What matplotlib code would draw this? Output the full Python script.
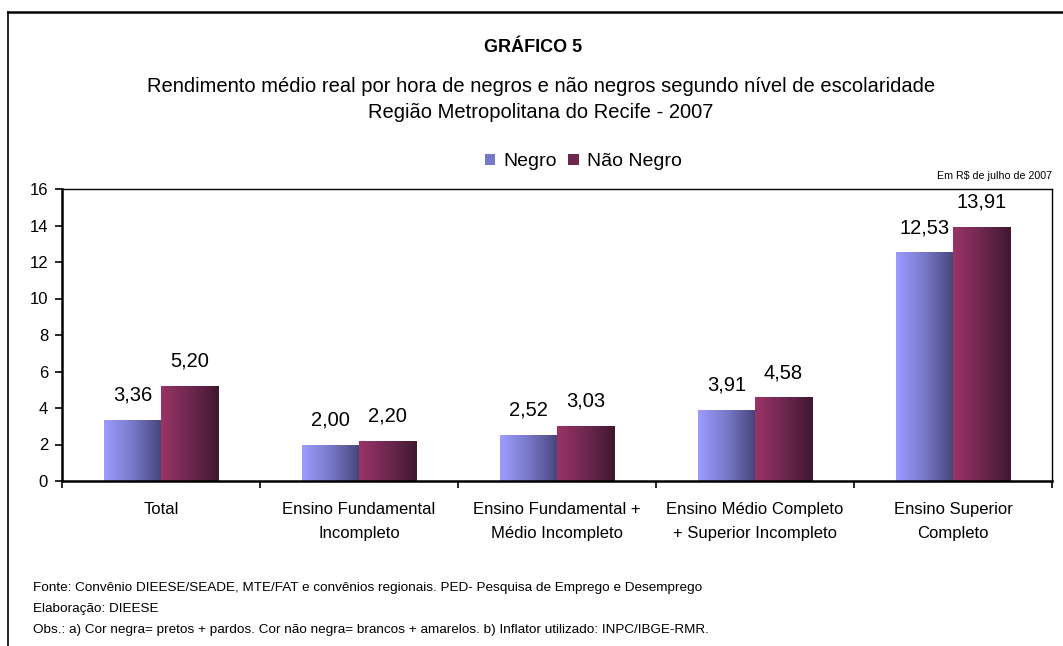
import numpy as np
import matplotlib
matplotlib.use("Agg")
import matplotlib.pyplot as plt
from matplotlib.colors import LinearSegmentedColormap
from matplotlib.patches import Patch
from matplotlib.lines import Line2D

plt.rcParams['font.family'] = ['Liberation Sans', 'DejaVu Sans']

categorias = ["Total", "Ensino Fundamental\nIncompleto", "Ensino Fundamental +\nMédio Incompleto",
              "Ensino Médio Completo\n+ Superior Incompleto", "Ensino Superior\nCompleto"]
negro = [3.36, 2.00, 2.52, 3.91, 12.53]
nao_negro = [5.20, 2.20, 3.03, 4.58, 13.91]
series = ["Negro", "Não Negro"]


def fmt(v):
    return f"{v:.2f}".replace(".", ",")


fig = plt.figure(figsize=(10.63, 6.46), dpi=100)
ax = fig.add_axes([62 / 1063, 1 - 481 / 646, 990 / 1063, 292 / 646])

cmap_negro = LinearSegmentedColormap.from_list("negro", ["#9c9cff", "#7878c8", "#45457a"])
cmap_nao = LinearSegmentedColormap.from_list("nao", ["#9a3366", "#6e2850", "#401830"])

x = np.arange(len(categorias))
w = 0.288
grad = np.linspace(0, 1, 256).reshape(1, -1)

for vals, off, cmap in [(negro, -w / 2, cmap_negro), (nao_negro, w / 2, cmap_nao)]:
    bars = ax.bar(x + off, vals, width=w, color="none", edgecolor="none", zorder=2)
    for b, v in zip(bars, vals):
        x0 = b.get_x()
        im = ax.imshow(grad, cmap=cmap, extent=[x0, x0 + b.get_width(), 0, v],
                       aspect="auto", zorder=2, interpolation="bilinear")
        im.set_clip_path(b)
        ax.annotate(fmt(v), (b.get_x() + b.get_width() / 2, v), xytext=(0, 11),
                    textcoords="offset points", ha="center", va="bottom", fontsize=14.5)

ax.set_xlim(-0.5, len(categorias) - 0.5)
ax.set_ylim(0, 16)
ax.set_yticks(range(0, 17, 2))
ax.tick_params(axis="y", labelsize=12, length=5, width=1.2, direction="out", pad=5)
ax.set_xticks(np.arange(len(categorias) + 1) - 0.5)
ax.set_xticklabels([])
ax.set_xticks(x, minor=True)
ax.set_xticklabels(categorias, minor=True, fontsize=12, linespacing=1.8)
ax.tick_params(axis="x", which="major", length=5, width=1.2, direction="out")
ax.tick_params(axis="x", which="minor", length=0, pad=15)
for sp in ax.spines.values():
    sp.set_linewidth(1.0)
ax.spines["left"].set_linewidth(1.8)
ax.spines["bottom"].set_linewidth(1.8)

fig.text(533 / 1063, 1 - 47 / 646, "GRÁFICO 5", ha="center", va="center", fontsize=13, fontweight="bold")
fig.text(541 / 1063, 1 - 86 / 646,
         "Rendimento médio real por hora de negros e não negros segundo nível de escolaridade",
         ha="center", va="center", fontsize=14.5)
fig.text(541 / 1063, 1 - 112 / 646, "Região Metropolitana do Recife - 2007",
         ha="center", va="center", fontsize=14.5)
fig.text(1052 / 1063, 1 - 176 / 646, "Em R$ de julho de 2007", ha="right", va="center", fontsize=7.7)

handles = [Patch(facecolor="#7878c8"), Patch(facecolor="#6e2850")]
fig.legend(handles, series, loc="center", bbox_to_anchor=(583 / 1063, 1 - 162 / 646), ncol=2,
           frameon=False, fontsize=14, handlelength=0.55, handleheight=0.55,
           handletextpad=0.4, columnspacing=0.6)

notas = ["Fonte: Convênio DIEESE/SEADE, MTE/FAT e convênios regionais. PED- Pesquisa de Emprego e Desemprego",
         "Elaboração: DIEESE",
         "Obs.: a) Cor negra= pretos + pardos. Cor não negra= brancos + amarelos. b) Inflator utilizado: INPC/IBGE-RMR."]
for i, t in enumerate(notas):
    fig.text(33 / 1063, 1 - (588 + 21 * i) / 646, t, ha="left", va="center", fontsize=9.7)

fig.add_artist(Line2D([8 / 1063, 8 / 1063], [0, 1 - 12 / 646], color="black", lw=1.2))
fig.add_artist(Line2D([8 / 1063, 1], [1 - 12 / 646, 1 - 12 / 646], color="black", lw=1.8))

fig.savefig("out.png", dpi=100)
